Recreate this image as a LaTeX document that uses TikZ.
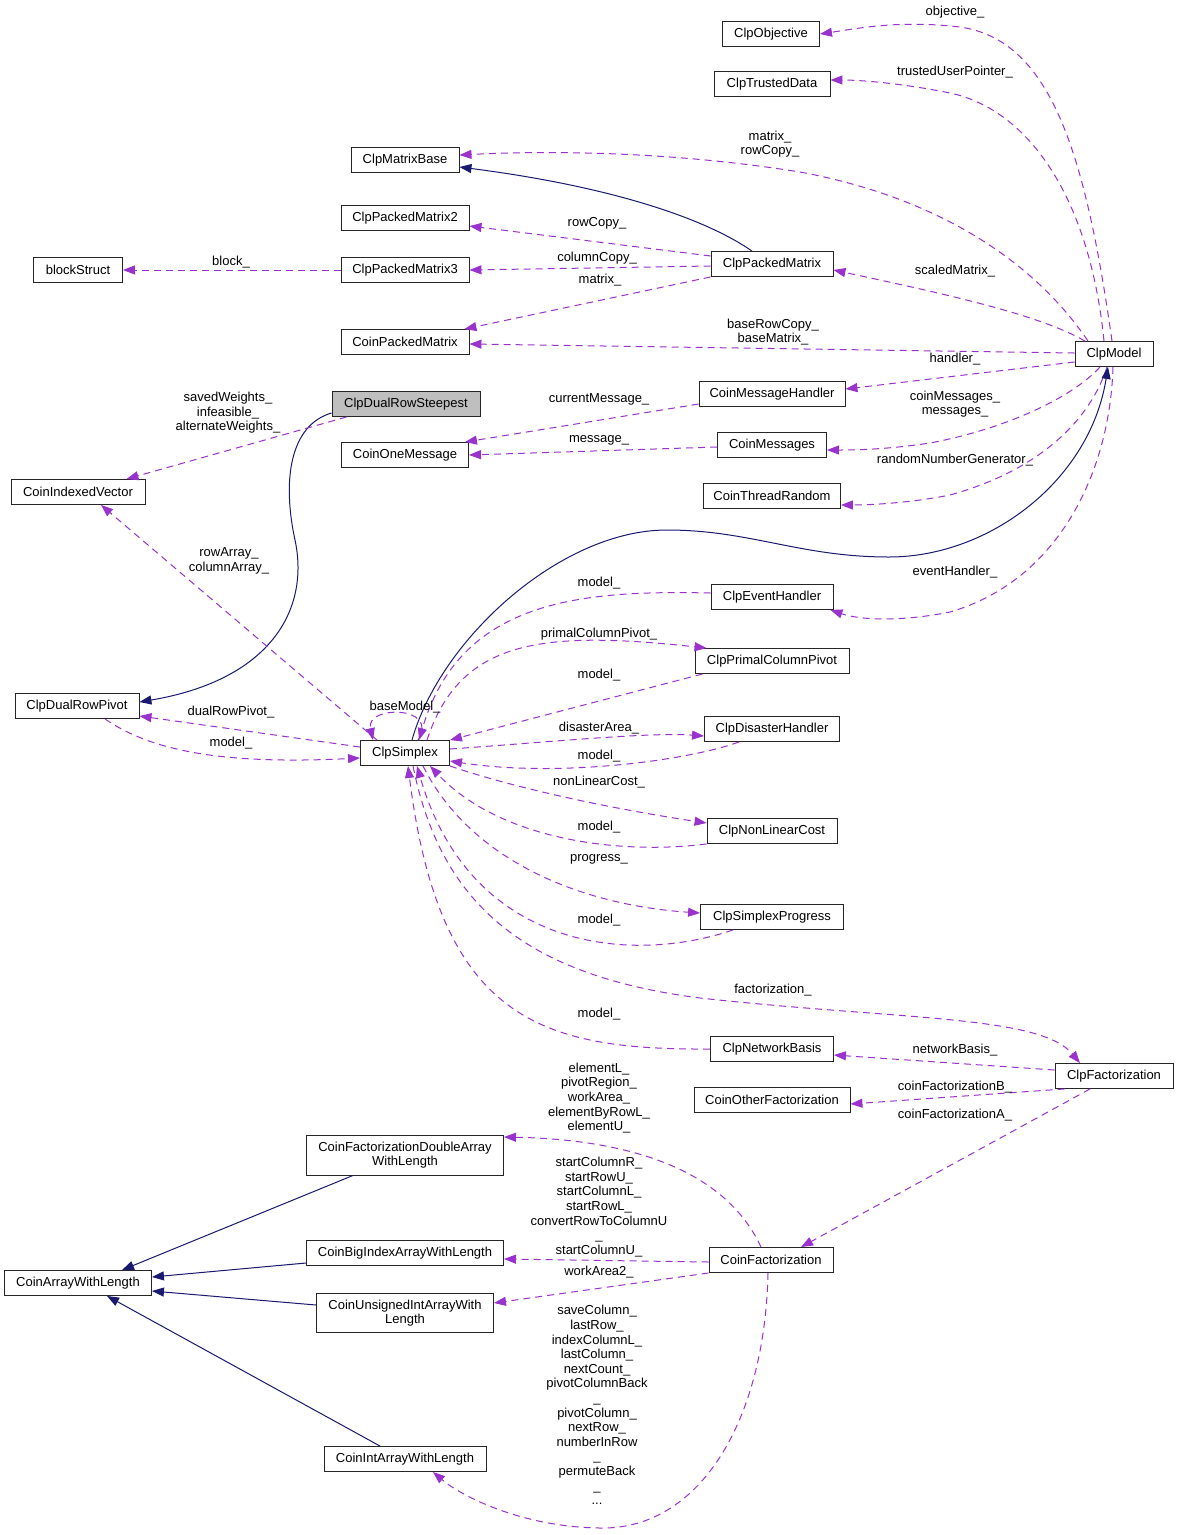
\documentclass[tikz,border=0pt]{standalone}
\usepackage{fontspec}
\setmainfont{Liberation Sans}
\usetikzlibrary{arrows.meta}
\definecolor{member}{HTML}{9A32CD}
\definecolor{parent}{HTML}{191970}
\definecolor{focus}{HTML}{BFBFBF}
\newcommand{\dxfont}{\fontsize{13}{14.6}\selectfont}
\tikzstyle{cls} = [rectangle, draw=black!85, line width=0.9pt, fill=white, minimum height=25pt, inner xsep=2pt, inner ysep=1pt, text centered, font=\dxfont]
\tikzstyle{lbl} = [inner sep=0pt, align=center, font=\dxfont]
\tikzstyle{mem} = [->, draw=member, line width=1pt, dash pattern=on 7pt off 5pt]
\tikzstyle{inh} = [->, draw=parent, line width=1pt]

\begin{document}
\begin{tikzpicture}[x=1pt, y=-1pt, >={Triangle[length=12pt,width=9pt]}]
	\path[fill=white] (0,0) rectangle (1179,1535);
	\useasboundingbox (0,0) rectangle (1179,1535);

	\node (obj)      [cls, minimum width=97pt]  at (771,34)   {ClpObjective};
	\node (trust)    [cls, minimum width=116pt] at (772,84)   {ClpTrustedData};
	\node (mbase)    [cls, minimum width=108pt] at (405,160)  {ClpMatrixBase};
	\node (pm2)      [cls, minimum width=128pt] at (405,218)  {ClpPackedMatrix2};
	\node (block)    [cls, minimum width=89pt]  at (78,270)   {blockStruct};
	\node (pm3)      [cls, minimum width=128pt] at (405,270)  {ClpPackedMatrix3};
	\node (pm)       [cls, minimum width=122pt] at (772,264)  {ClpPackedMatrix};
	\node (cpm)      [cls, minimum width=128pt] at (405,342)  {CoinPackedMatrix};
	\node (model)    [cls, minimum width=78pt]  at (1114,354) {ClpModel};
	\node (steep)    [cls, minimum width=148pt, fill=focus] at (406,404) {ClpDualRowSteepest};
	\node (mhandler) [cls, minimum width=146pt] at (772,394)  {CoinMessageHandler};
	\node (onemsg)   [cls, minimum width=127pt] at (405,455)  {CoinOneMessage};
	\node (msgs)     [cls, minimum width=109pt] at (772,445)  {CoinMessages};
	\node (ivec)     [cls, minimum width=134pt] at (78,492)   {CoinIndexedVector};
	\node (rand)     [cls, minimum width=137pt] at (772,496)  {CoinThreadRandom};
	\node (event)    [cls, minimum width=122pt] at (772,597)  {ClpEventHandler};
	\node (primal)   [cls, minimum width=154pt] at (772,661)  {ClpPrimalColumnPivot};
	\node (dual)     [cls, minimum width=124pt] at (77,706)   {ClpDualRowPivot};
	\node (simplex)  [cls, minimum width=89pt]  at (405,753)  {ClpSimplex};
	\node (disaster) [cls, minimum width=135pt] at (772,729)  {ClpDisasterHandler};
	\node (nonlin)   [cls, minimum width=130pt] at (772,831)  {ClpNonLinearCost};
	\node (progress) [cls, minimum width=143pt] at (772,917)  {ClpSimplexProgress};
	\node (network)  [cls, minimum width=123pt] at (772,1049) {ClpNetworkBasis};
	\node (fact)     [cls, minimum width=118pt] at (1114,1076) {ClpFactorization};
	\node (other)    [cls, minimum width=156pt] at (772,1100) {CoinOtherFactorization};
	\node (dbl)      [cls, minimum width=197pt, minimum height=40pt, align=center] at (405,1155) {CoinFactorizationDoubleArray\\WithLength};
	\node (big)      [cls, minimum width=197pt] at (405,1253) {CoinBigIndexArrayWithLength};
	\node (arr)      [cls, minimum width=147pt] at (78,1283)  {CoinArrayWithLength};
	\node (cfact)    [cls, minimum width=124pt] at (771,1260) {CoinFactorization};
	\node (uint)     [cls, minimum width=177pt, minimum height=39pt, align=center] at (405,1313) {CoinUnsignedIntArrayWith\\Length};
	\node (intarr)   [cls, minimum width=162pt] at (405,1459) {CoinIntArrayWithLength};

	\draw[mem] ([xshift=-2pt]model.north) .. controls (1085,150) and (1050,40) .. (960,27) .. controls (900,20) and (860,28) .. (obj.east);
	\draw[mem] ([xshift=-10pt]model.north) .. controls (1090,200) and (1030,110) .. (950,93) .. controls (900,83) and (860,80) .. ([yshift=4pt]trust.east);
	\draw[mem] ([xshift=-26pt]model.north) .. controls (1040,270) and (950,200) .. (800,172) .. controls (650,148) and (520,152) .. ([yshift=5pt]mbase.east);
	\draw[mem] ([xshift=-29pt]model.north) .. controls (1040,315) and (950,295) .. ([yshift=-6pt]pm.east);
	\draw[mem] ([yshift=1pt]model.west) -- ([yshift=-2pt]cpm.east);
	\draw[mem] ([yshift=-8pt]model.west) -- ([yshift=5pt]mhandler.east);
	\draw[mem] ([xshift=-14pt]model.south) .. controls (1070,400) and (1000,430) .. (930,443) .. controls (890,449) and (860,450) .. ([yshift=-5pt]msgs.east);
	\draw[mem] ([xshift=-7pt]model.south) .. controls (1090,420) and (1040,470) .. (950,495) .. controls (910,503) and (870,505) .. ([yshift=-9pt]rand.east);
	\draw[mem] ([xshift=-1pt]model.south) .. controls (1110,470) and (1060,580) .. (950,612) .. controls (900,622) and (860,620) .. ([xshift=-3pt]event.south east);

	\draw[inh] ([xshift=-20pt]pm.north) .. controls (700,215) and (600,185) .. ([yshift=-7pt]mbase.east);
	\draw[mem] ([yshift=8pt]pm.west) -- ([yshift=-8pt]pm2.east);
	\draw[mem] ([yshift=-2pt]pm.west) -- (pm3.east);
	\draw[mem] (pm.south west) -- ([xshift=-5pt]cpm.north east);
	\draw[mem] (pm3.west) -- (block.east);

	\draw[inh] ([yshift=-9pt]steep.west) .. controls (290,425) and (282,480) .. (295,540) .. controls (310,610) and (270,680) .. ([yshift=4pt]dual.east);
	\draw[mem] ([xshift=15pt]steep.south west) -- ([xshift=-19pt]ivec.north east);
	\draw[mem] ([yshift=-10pt]mhandler.west) -- ([xshift=-4pt]onemsg.north east);
	\draw[mem] ([yshift=-2pt]msgs.west) -- (onemsg.east);

	\draw[inh] ([xshift=7pt]simplex.north) .. controls (440,640) and (560,530) .. (667,530) .. controls (750,530) and (800,557) .. (889,557) .. controls (990,557) and (1090,480) .. ([xshift=-6pt]model.south);
	\draw[mem] ([xshift=-28pt]simplex.north) -- ([xshift=23pt]ivec.south);
	\draw[mem] ([yshift=6pt]simplex.west) -- ([yshift=-10pt]dual.east);
	\draw[mem] ([xshift=28pt]dual.south) .. controls (150,750) and (220,765) .. ([yshift=-5pt]simplex.west);
	\draw[mem] ([xshift=13pt]simplex.north) .. controls (440,705) and (365,705) .. ([xshift=-32pt]simplex.north);
	\draw[mem] ([yshift=4pt]event.west) .. controls (580,590) and (460,600) .. ([xshift=14pt]simplex.north);
	\draw[mem] ([xshift=22pt]simplex.north) .. controls (460,640) and (540,630) .. ([xshift=12pt]primal.north west);
	\draw[mem] ([xshift=8pt]primal.south west) -- (simplex.north east);
	\draw[mem] ([yshift=4pt]simplex.east) .. controls (550,742) and (650,732) .. ([yshift=-7pt]disaster.west);
	\draw[mem] ([xshift=-33pt]disaster.south) .. controls (690,760) and (560,778) .. ([yshift=-8pt]simplex.east);
	\draw[mem] (simplex.south east) .. controls (520,790) and (620,810) .. ([yshift=8pt]nonlin.west);
	\draw[mem] (nonlin.south west) .. controls (620,855) and (500,840) .. ([xshift=25pt]simplex.south);
	\draw[mem] ([xshift=18pt]simplex.south) .. controls (470,860) and (580,905) .. ([yshift=4pt]progress.west);
	\draw[mem] ([xshift=-39pt]progress.south) .. controls (630,965) and (470,950) .. ([xshift=12pt]simplex.south);
	\draw[mem] ([xshift=8pt]simplex.south) .. controls (440,900) and (520,975) .. (700,998) .. controls (900,1020) and (1040,1015) .. ([xshift=-34pt]fact.north);
	\draw[mem] (network.west) .. controls (540,1050) and (440,1020) .. ([xshift=3pt]simplex.south);

	\draw[mem] ([yshift=6pt]fact.west) -- ([yshift=-6pt]network.east);
	\draw[mem] ([xshift=10pt]fact.south west) -- ([yshift=-4pt]other.east);
	\draw[mem] ([xshift=-24pt]fact.south) -- ([xshift=30pt]cfact.north);

	\draw[mem] ([xshift=-10pt]cfact.north) .. controls (730,1180) and (650,1140) .. ([yshift=18pt]dbl.east);
	\draw[mem] ([yshift=-2pt]cfact.west) -- ([yshift=-6pt]big.east);
	\draw[mem] (cfact.south west) -- ([yshift=10pt]uint.east);
	\draw[mem] ([xshift=-3pt]cfact.south) .. controls (765,1420) and (700,1530) .. (600,1528) .. controls (520,1527) and (460,1495) .. ([xshift=28pt]intarr.south);

	\draw[inh] ([xshift=-52pt]dbl.south) -- ([xshift=44pt]arr.north);
	\draw[inh] ([yshift=-10pt]big.west) -- ([yshift=6pt]arr.east);
	\draw[inh] ([yshift=8pt]uint.west) -- ([yshift=-8pt]arr.east);
	\draw[inh] ([xshift=-25pt]intarr.north) -- ([xshift=29pt]arr.south);

	\node (lobj)      [lbl] at (955,12)   {objective\_};
	\node (ltrust)    [lbl] at (955,72)   {trustedUserPointer\_};
	\node (lmatrix)   [lbl] at (770,144)  {matrix\_\\rowCopy\_};
	\node (lrowcopy)  [lbl] at (597,223)  {rowCopy\_};
	\node (lblock)    [lbl] at (231,262)  {block\_};
	\node (lcolcopy)  [lbl] at (597,258)  {columnCopy\_};
	\node (lscaled)   [lbl] at (955,271)  {scaledMatrix\_};
	\node (lpmmatrix) [lbl] at (600,280)  {matrix\_};
	\node (lbase)     [lbl] at (773,332)  {baseRowCopy\_\\baseMatrix\_};
	\node (lhandler)  [lbl] at (955,359)  {handler\_};
	\node (lweights)  [lbl] at (228,413)  {savedWeights\_\\infeasible\_\\alternateWeights\_};
	\node (lcurmsg)   [lbl] at (599,399)  {currentMessage\_};
	\node (lmsgs)     [lbl] at (955,404)  {coinMessages\_\\messages\_};
	\node (lmsg)      [lbl] at (599,440)  {message\_};
	\node (lrand)     [lbl] at (955,460)  {randomNumberGenerator\_};
	\node (larrays)   [lbl] at (229,561)  {rowArray\_\\columnArray\_};
	\node (levent)    [lbl] at (955,572)  {eventHandler\_};
	\node (lmodela)   [lbl] at (599,583)  {model\_};
	\node (lprimal)   [lbl] at (599,634)  {primalColumnPivot\_};
	\node (lmodelb)   [lbl] at (599,675)  {model\_};
	\node (lbasemod)  [lbl] at (405,707)  {baseModel\_};
	\node (ldual)     [lbl] at (231,712)  {dualRowPivot\_};
	\node (ldisaster) [lbl] at (599,728)  {disasterArea\_};
	\node (lmodelc)   [lbl] at (231,743)  {model\_};
	\node (lmodeld)   [lbl] at (599,756)  {model\_};
	\node (lnonlin)   [lbl] at (599,782)  {nonLinearCost\_};
	\node (lmodele)   [lbl] at (599,827)  {model\_};
	\node (lprogress) [lbl] at (599,859)  {progress\_};
	\node (lmodelf)   [lbl] at (599,920)  {model\_};
	\node (lfact)     [lbl] at (773,990)  {factorization\_};
	\node (lmodelg)   [lbl] at (599,1014) {model\_};
	\node (lnetwork)  [lbl] at (955,1050) {networkBasis\_};
	\node (lfactb)    [lbl] at (955,1087) {coinFactorizationB\_};
	\node (lfacta)    [lbl] at (955,1115) {coinFactorizationA\_};
	\node (lelement)  [lbl] at (599,1098) {elementL\_\\pivotRegion\_\\workArea\_\\elementByRowL\_\\elementU\_};
	\node (lstart)    [lbl] at (599,1207) {startColumnR\_\\startRowU\_\\startColumnL\_\\startRowL\_\\convertRowToColumnU\\\_\\startColumnU\_};
	\node (lwork)     [lbl] at (599,1272) {workArea2\_};
	\node (lint)      [lbl] at (597,1405) {saveColumn\_\\lastRow\_\\indexColumnL\_\\lastColumn\_\\nextCount\_\\pivotColumnBack\\\_\\pivotColumn\_\\nextRow\_\\numberInRow\\\_\\permuteBack\\\_\\...};
\end{tikzpicture}
\end{document}
